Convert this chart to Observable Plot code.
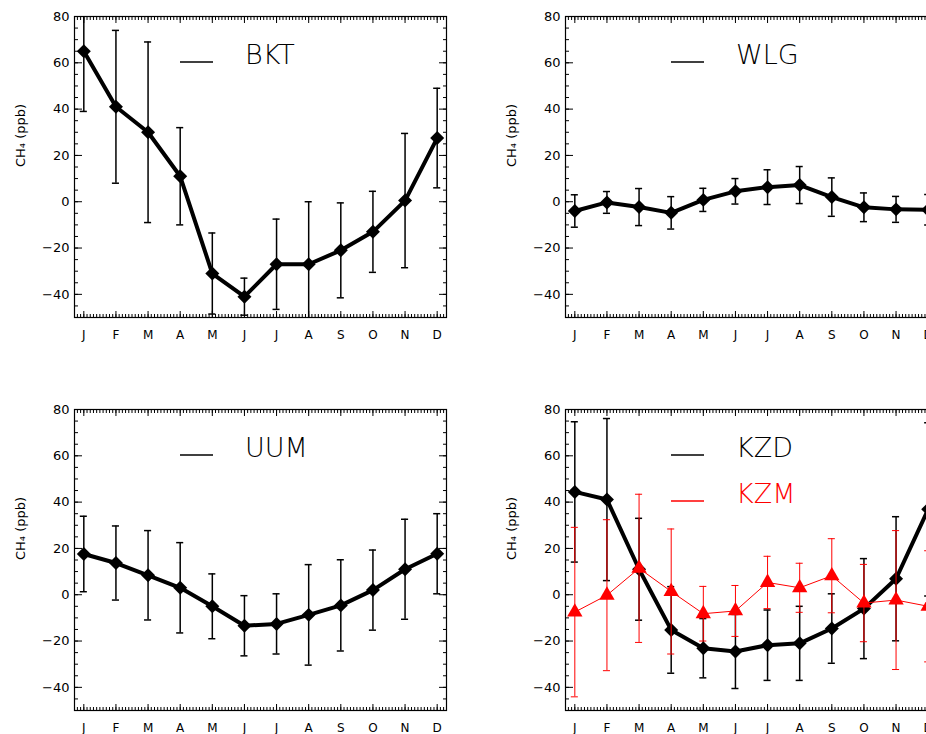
<!DOCTYPE html>
<html>
<head>
<meta charset="utf-8">
<script src="https://cdn.jsdelivr.net/npm/d3@7"></script>
<script src="https://cdn.jsdelivr.net/npm/@observablehq/plot@0.6"></script>
<style>
  html, body { margin: 0; padding: 0; background: #fff; overflow: hidden; }
  #wrap { position: relative; width: 926px; height: 734px; overflow: hidden; background: #fff; }
  #wrap > svg { position: absolute; }
</style>
</head>
<body>
<div id="wrap"></div>
<script>
// ---- data ----
const months = [1, 2, 3, 4, 5, 6, 7, 8, 9, 10, 11, 12];
const monthLabels = ["J", "F", "M", "A", "M", "J", "J", "A", "S", "O", "N", "D"];
const yTickValues = [-40, -20, 0, 20, 40, 60, 80];
const yMinorTickValues = [-50, -45, -40, -35, -30, -25, -20, -15, -10, -5, 0, 5, 10, 15, 20, 25, 30, 35, 40, 45, 50, 55, 60, 65, 70, 75, 80];
const yLabel = "CH₄ (ppb)";

const bktMean = [65, 41, 30, 11, -31, -41, -27, -27, -21, -13, 0.5, 27.5];
const bktErr  = [26, 33, 39, 21, 17.5, 8, 19.5, 27, 20.5, 17.5, 29, 21.5];

const wlgMean = [-4, -0.3, -2.3, -4.8, 0.8, 4.5, 6.3, 7.2, 2, -2.4, -3.3, -3.5];
const wlgErr  = [7, 4.7, 8, 7, 5, 5.5, 7.5, 8, 8.3, 6.2, 5.6, 6.6];

const uumMean = [17.6, 13.7, 8.4, 3, -5, -13.4, -12.6, -8.7, -4.6, 2, 11, 17.7];
const uumErr  = [16.3, 16, 19.3, 19.5, 14, 13, 13, 21.7, 19.7, 17.3, 21.6, 17.3];

const kzdMean = [44.4, 41.1, 11, -15.2, -23.1, -24.5, -21.8, -21, -14.6, -6, 6.9, 36.9];
const kzdErr  = [30.3, 35, 22, 18.7, 12.8, 16, 15.2, 16, 15, 21.6, 26.8, 37.4];

const kzmMean = [-7.5, -0.2, 11.4, 1.4, -8.2, -7, 5.3, 3, 8.2, -3.6, -2.3, -5];
const kzmErr  = [36.6, 32.6, 32, 27, 11.8, 11, 11.3, 10.6, 16, 16.7, 30, 24];

// ---- layout ----
const W = 460, H = 370;
const M = {left: 74, right: 14, top: 16, bottom: 53};
const capHalf = 0.11;
const xMinorTicks = d3.range(0.8, 12.29, 0.1).map(v => Math.round(v * 10) / 10);

function legendMark(items) {
  return (index, scales, values, dims) => {
    const g = d3.create("svg:g");
    items.forEach((it, i) => {
      const y0 = dims.marginTop + 46 + i * 46;
      g.append("line")
        .attr("x1", dims.marginLeft + 106).attr("x2", dims.marginLeft + 139)
        .attr("y1", y0).attr("y2", y0)
        .attr("stroke", it.color).attr("stroke-width", 1.3);
      g.append("text")
        .attr("x", dims.marginLeft + 171).attr("y", y0 + 2)
        .attr("text-anchor", "start")
        .attr("fill", it.color)
        .attr("font-size", 27)
        .attr("font-weight", 200)
        .attr("font-family", "'DejaVu Sans', sans-serif")
        .text(it.name);
    });
    return g.node();
  };
}

function panel(series, legendItems) {
  const marks = [];
  for (const s of series) {
    const data = months.map((m, i) => ({m, v: s.mean[i], e: s.err[i]}));
    marks.push(
      Plot.ruleX(data, {x: "m", y1: d => d.v - d.e, y2: d => d.v + d.e, stroke: s.color, strokeWidth: s.barWidth, clip: true}),
      Plot.ruleY(data, {y: d => d.v - d.e, x1: d => d.m - capHalf, x2: d => d.m + capHalf, stroke: s.color, strokeWidth: s.barWidth, clip: true}),
      Plot.ruleY(data, {y: d => d.v + d.e, x1: d => d.m - capHalf, x2: d => d.m + capHalf, stroke: s.color, strokeWidth: s.barWidth, clip: true}),
      Plot.line(data, {x: "m", y: "v", stroke: s.color, strokeWidth: s.lineWidth, clip: true}),
      Plot.dot(data, {x: "m", y: "v", symbol: s.symbol, r: s.r, fill: s.color, stroke: "none"})
    );
  }
  return Plot.plot({
    width: W, height: H,
    marginLeft: M.left, marginRight: M.right, marginTop: M.top, marginBottom: M.bottom,
    style: {fontFamily: "'DejaVu Sans', sans-serif", fontSize: "12px", color: "black", background: "white", overflow: "visible"},
    x: {domain: [0.71, 12.29]},
    y: {domain: [-50, 80]},
    marks: [
      // minor & major ticks (inward) on all four sides
      Plot.axisX(xMinorTicks, {anchor: "bottom", tickSize: 3, insetBottom: 3, fill: "none", label: null}),
      Plot.axisX(xMinorTicks, {anchor: "top", tickSize: 3, insetTop: 3, fill: "none", label: null}),
      Plot.axisX(months, {anchor: "bottom", tickSize: 6, insetBottom: 6, fill: "none", label: null}),
      Plot.axisX(months, {anchor: "top", tickSize: 6, insetTop: 6, fill: "none", label: null}),
      Plot.axisY(yMinorTickValues, {anchor: "left", tickSize: 4, insetLeft: 4, fill: "none", label: null}),
      Plot.axisY(yMinorTickValues, {anchor: "right", tickSize: 4, insetRight: 4, fill: "none", label: null}),
      Plot.axisY(yTickValues, {anchor: "left", tickSize: 8, insetLeft: 8, fill: "none", label: null}),
      Plot.axisY(yTickValues, {anchor: "right", tickSize: 8, insetRight: 8, fill: "none", label: null}),
      // tick labels
      Plot.axisX(months, {anchor: "bottom", tickSize: 0, tickPadding: 13, tickFormat: d => monthLabels[d - 1], fontSize: 12, label: null}),
      Plot.axisY(yTickValues, {anchor: "left", tickSize: 0, tickPadding: 5, fontSize: 13, label: null}),
      Plot.text([yLabel], {frameAnchor: "left", dx: -54, rotate: -90, fontSize: 13, text: d => d}),
      ...marks,
      Plot.frame({stroke: "black", strokeWidth: 1.2}),
      legendMark(legendItems)
    ]
  });
}

const black = (mean, err) => ({mean, err, color: "black", symbol: "diamond2", r: 6.3, lineWidth: 4, barWidth: 1.5});

const panels = [
  {left: 0,   top: 0,   node: panel([black(bktMean, bktErr)], [{name: "BKT", color: "black"}])},
  {left: 491, top: 0,   node: panel([black(wlgMean, wlgErr)], [{name: "WLG", color: "black"}])},
  {left: 0,   top: 393, node: panel([black(uumMean, uumErr)], [{name: "UUM", color: "black"}])},
  {left: 491, top: 393, node: panel([
      black(kzdMean, kzdErr),
      {mean: kzmMean, err: kzmErr, color: "#ff0000", symbol: "triangle", r: 5.7, lineWidth: 1, barWidth: 1}
    ], [{name: "KZD", color: "black"}, {name: "KZM", color: "#ff0000"}])}
];

const wrap = document.getElementById("wrap");
for (const p of panels) {
  p.node.style.left = p.left + "px";
  p.node.style.top = p.top + "px";
  wrap.appendChild(p.node);
}
</script>
</body>
</html>
